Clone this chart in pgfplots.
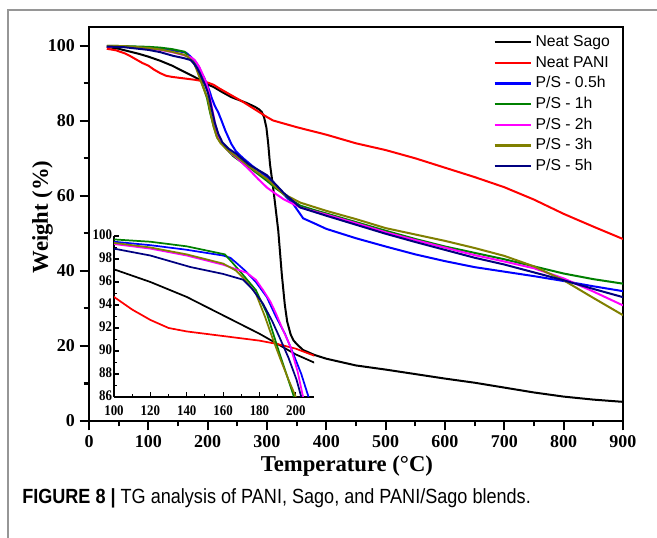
\documentclass[border=0pt]{standalone}
\usepackage{pgfplots}
\pgfplotsset{compat=1.18}
\usepackage{pgfplotstable}
\usepackage{fontspec}
\setmainfont{Liberation Serif}
\newfontfamily\arial{Liberation Sans}
\newfontfamily\arialn[FakeStretch=0.88]{Liberation Sans}
\newfontfamily\timesn[FakeStretch=0.88]{Liberation Serif}
\definecolor{cgreen}{RGB}{0,128,0}
\definecolor{colive}{RGB}{128,128,0}
\definecolor{cnavy}{RGB}{0,0,128}
\definecolor{cmag}{RGB}{255,0,255}
\definecolor{cblue}{RGB}{0,0,255}
\definecolor{cred}{RGB}{255,0,0}
\definecolor{frame}{RGB}{150,150,150}

\pgfplotstableread{
T W
30 99.7
50 99.2
70 98.4
85 97.8
100 97.1
120 96.0
140 94.7
160 93.1
180 91.5
190 90.6
200 89.7
210 89.0
225 87.6
240 86.3
250 85.7
265 84.8
280 83.7
287 83.0
291 82.4
295 81.0
299 78.2
302 74.0
305 68.5
311 61.4
319 50.7
325 39.0
330 31.0
334 26.5
340 23.0
345 21.4
352 20.2
361 18.9
380 17.6
400 16.6
450 14.8
500 13.7
550 12.5
600 11.3
650 10.2
700 8.9
750 7.6
800 6.5
850 5.7
900 5.1
}\sago

\pgfplotstableread{
T W
30 99.2
45 98.8
60 98.0
70 97.2
80 96.3
90 95.4
100 94.7
110 93.6
120 92.7
130 92.0
140 91.7
160 91.3
180 90.9
190 90.6
200 90.2
210 89.6
220 88.6
240 86.8
260 85.0
275 83.5
290 82.0
300 81.0
310 80.1
330 79.2
350 78.3
400 76.3
450 74.0
500 72.2
550 70.0
600 67.5
650 65.0
700 62.3
750 59.0
800 55.2
850 51.8
900 48.5
}\pani

\pgfplotstableread{
T W
30 99.9
60 99.8
100 99.5
120 99.2
140 98.8
160 98.3
164 98.1
167 97.7
172 97.0
178 96.0
184 94.7
189 93.0
194 91.5
198.5 89.8
203 88.0
207 86.0
212 84.0
218 82.2
224 79.8
230 77.3
240 73.8
248 71.8
260 70.0
275 68.0
290 66.2
300 65.0
320 62.0
333 59.6
342 58.3
350 56.5
361 54.0
378 52.8
400 51.2
450 48.7
500 46.5
550 44.4
600 42.6
650 41.0
700 39.8
750 38.6
800 37.3
850 35.9
900 34.6
}\psa

\pgfplotstableread{
T W
30 100
60 99.9
100 99.7
120 99.5
140 99.1
161 98.4
165 97.7
170 96.8
178 95.3
184 93.3
191 89.8
199 86.0
204 82.3
210 78.6
215 76.0
221 74.4
230 72.8
243 70.6
257 69.0
271 67.5
285 65.8
300 64.0
315 62.0
328 60.5
340 59.0
356 57.4
380 56.2
400 55.3
450 53.0
500 50.7
550 48.5
600 46.5
650 44.8
700 43.1
750 41.2
800 39.3
850 37.8
900 36.6
}\psb

\pgfplotstableread{
T W
30 99.8
60 99.7
100 99.3
120 98.9
140 98.3
160 97.5
173 96.8
178 96.2
182 95.3
186 94.3
189 93.3
193 91.8
197 90.4
201 88.2
204 86.0
208 82.8
213 78.8
218 75.8
224 74.0
235 72.0
250 70.0
270 67.0
285 64.5
300 62.2
315 60.5
328 59.1
356 56.9
400 55.0
450 52.7
500 50.3
550 48.2
600 46.2
650 44.2
700 42.5
750 40.7
800 38.0
850 34.5
900 30.8
}\psc

\pgfplotstableread{
T W
30 100
60 99.9
100 99.4
120 99.0
140 98.4
160 97.6
167 97.0
172 96.2
178 95.0
183 93.0
187 91.2
191.5 89.3
196 87.5
200 86.0
205 82.0
210 78.5
216 75.5
222 74.0
235 72.0
250 70.3
270 67.8
300 64.5
328 60.5
356 58.2
400 56.0
450 53.8
500 51.4
550 49.7
600 48.0
650 46.1
700 44.0
750 41.2
800 37.5
850 32.8
900 28.2
}\psd

\pgfplotstableread{
T W
30 99.8
60 99.6
100 98.9
120 98.3
142 97.3
160 96.7
171 96.2
176 95.4
182 94.1
187 92.6
191 91.2
196 89.4
200.4 87.5
203 86.0
207 83.0
212 79.5
218 76.5
225 74.2
235 72.6
248 71.2
270 68.3
300 65.5
328 60.8
356 56.9
400 54.7
450 52.3
500 49.9
550 47.7
600 45.6
650 43.5
700 41.7
750 39.6
800 37.5
850 35.2
900 33.0
}\pse

\begin{document}
\begin{tikzpicture}
\useasboundingbox (0pt,0pt) rectangle (492.75pt,403.5pt);
\fill[white] (0pt,0pt) rectangle (492.75pt,403.5pt);
\draw[frame, line width=1.1pt] (6pt,-2pt) -- (6pt,396pt) -- (495pt,396pt);

\begin{axis}[
  at={(66.75pt,87.75pt)}, anchor=south west,
  scale only axis, width=400.5pt, height=295.5pt,
  xmin=0, xmax=900, ymin=0, ymax=105,
  xtick={0,100,...,900}, ytick={0,20,...,100},
  minor x tick num=1, minor y tick num=1,
  xtick pos=left, ytick pos=left,
  tick align=outside, major tick length=7pt, minor tick length=4pt,
  axis line style={line width=2pt},
  every tick/.style={line width=1.6pt, black},
  tick label style={font=\fontsize{13.5}{16}\selectfont\bfseries},
  /pgf/number format/assume math mode=true,
  xlabel={Temperature (°C)}, ylabel={Weight (\%)},
  label style={font=\fontsize{17}{20}\selectfont\bfseries},
  xlabel style={at={(axis description cs:0.483,-0.114)}, anchor=center},
  ylabel style={at={(axis description cs:-0.087,0.518)}, anchor=center},
  legend style={draw=none, fill=none, at={(axis description cs:0.757,0.985)}, anchor=north west,
    font=\arial\fontsize{11.8}{14}\selectfont, inner sep=0pt, row sep=2pt,
    nodes={inner sep=1pt, text height=9pt, text depth=2.5pt},
    /tikz/every odd column/.append style={column sep=2pt}},
  legend cell align=left,
  legend image code/.code={\draw[#1, line width=1.6pt] (0pt,0pt) -- (27pt,0pt);},
  every axis plot/.append style={line width=1.5pt, mark=none},
]
\addplot[black] table[x=T,y=W]{\sago};
\addplot[cred] table[x=T,y=W]{\pani};
\addplot[cblue] table[x=T,y=W]{\psa};
\addplot[cgreen] table[x=T,y=W]{\psb};
\addplot[cmag] table[x=T,y=W]{\psc};
\addplot[colive] table[x=T,y=W]{\psd};
\addplot[cnavy] table[x=T,y=W]{\pse};
\legend{Neat Sago, Neat PANI, P/S - 0.5h, P/S - 1h, P/S - 2h, P/S - 3h, P/S - 5h}
\end{axis}

\begin{axis}[
  at={(85.5pt,105.75pt)}, anchor=south west,
  scale only axis, width=150pt, height=120.75pt,
  xmin=100, xmax=210, ymin=86, ymax=100,
  axis lines=left, axis line style={-, line width=1pt},
  xtick={100,120,...,200}, ytick={86,88,...,100},
  minor x tick num=1, minor y tick num=1,
  tick align=inside, major tick length=4pt, minor tick length=2.5pt,
  every tick/.style={line width=0.8pt, black},
  tick label style={font=\timesn\fontsize{11}{12}\selectfont\bfseries},
  xticklabel style={yshift=-2.8pt}, yticklabel style={xshift=2pt, yshift=0.8pt},
  /pgf/number format/assume math mode=true,
  every axis plot/.append style={line width=1.3pt, mark=none},
]
\addplot[black] table[x=T,y=W]{\sago};
\addplot[cred] table[x=T,y=W]{\pani};
\addplot[cblue] table[x=T,y=W]{\psa};
\addplot[cgreen] table[x=T,y=W]{\psb};
\addplot[cmag] table[x=T,y=W]{\psc};
\addplot[colive] table[x=T,y=W]{\psd};
\addplot[cnavy] table[x=T,y=W]{\pse};
\end{axis}

\node[anchor=base west, inner sep=0pt, font=\arialn\fontsize{15.4}{18}\selectfont] at (16.5pt,26pt)
  {\textbf{FIGURE 8 |} TG analysis of PANI, Sago, and PANI/Sago blends.};
\end{tikzpicture}
\end{document}
